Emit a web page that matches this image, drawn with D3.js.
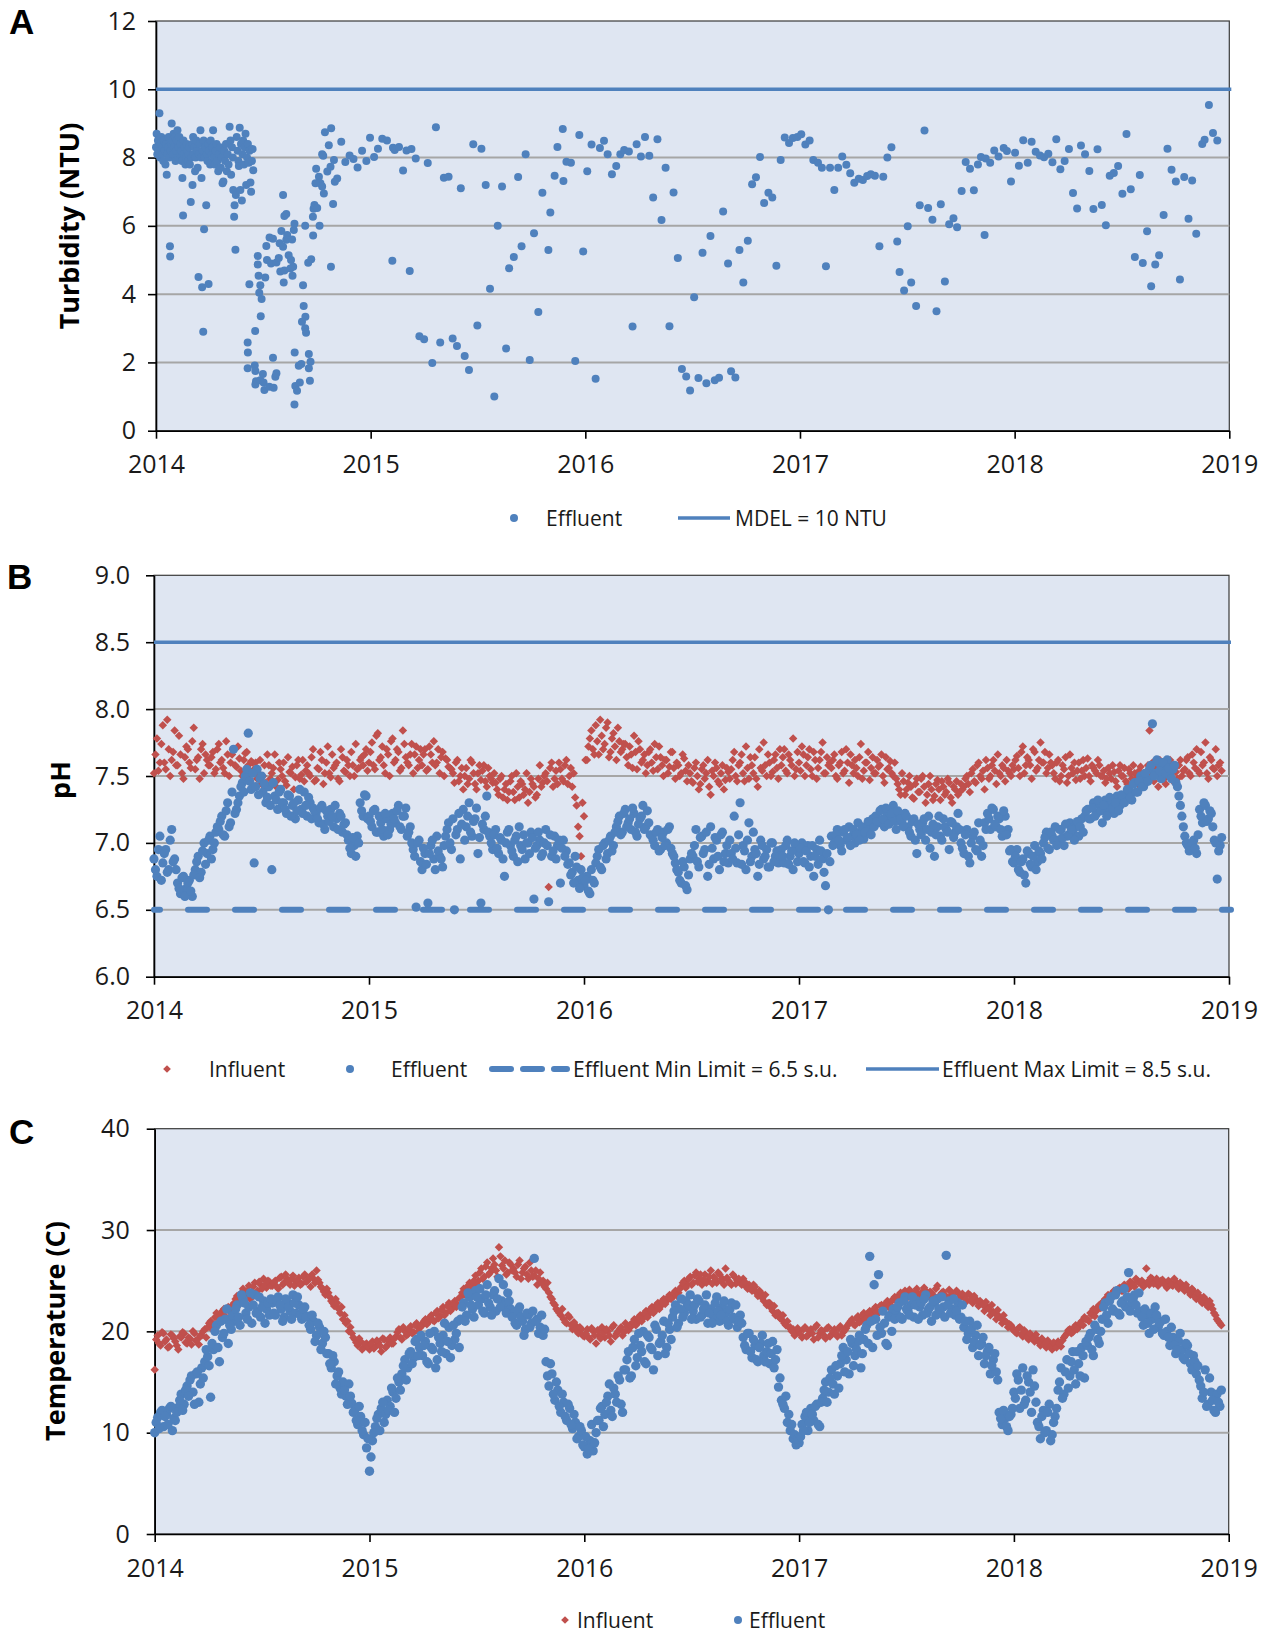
<!DOCTYPE html>
<html>
<head>
<meta charset="utf-8">
<script src="https://cdn.jsdelivr.net/npm/d3@7"></script>
<style>
  body { margin: 0; background: #fff; }
  svg { display: block; font-family: "Open Sans", sans-serif; }
</style>
</head>
<body>
<svg id="chart" width="1270" height="1636"></svg>
<script>
// ---------- Data ----------
const years = [2014, 2015, 2016, 2017, 2018, 2019];
const turbidityTicks = [0, 2, 4, 6, 8, 10, 12];
const phTicks = [6.0, 6.5, 7.0, 7.5, 8.0, 8.5, 9.0];
const tempTicks = [0, 10, 20, 30, 40];

const mdelNTU = 10;
const phMinLimit = 6.5;
const phMaxLimit = 8.5;

// Effluent turbidity grab samples: [years after 1 Jan 2014, NTU]
const turbidityEffluent = [
  [0.000,8.3],[0.003,8.7],[0.006,8.1],[0.009,8.5],[0.012,8.2],[0.016,9.3],[0.019,8.0],[0.022,8.4],[0.025,8.6],[0.028,8.1],
  [0.031,8.3],[0.034,7.9],[0.037,8.5],[0.040,8.2],[0.044,7.8],[0.047,8.4],[0.050,7.5],[0.053,8.1],[0.056,8.3],[0.059,8.6],
  [0.062,8.0],[0.065,5.4],[0.066,5.1],[0.068,8.2],[0.071,8.4],[0.073,9.0],[0.076,8.5],[0.079,8.1],[0.082,8.7],[0.085,8.3],
  [0.088,8.6],[0.091,7.9],[0.094,8.2],[0.097,8.5],[0.100,8.8],[0.103,8.0],[0.106,8.3],[0.109,8.6],[0.112,8.1],[0.115,8.4],
  [0.118,8.2],[0.121,7.9],[0.123,7.4],[0.126,6.3],[0.128,8.5],[0.131,8.1],[0.134,8.3],[0.137,7.8],[0.140,8.0],[0.143,8.4],
  [0.146,8.2],[0.149,7.9],[0.152,8.1],[0.155,8.3],[0.158,7.8],[0.162,6.7],[0.165,8.0],[0.168,8.4],[0.170,7.2],[0.173,8.6],
  [0.176,8.1],[0.179,8.3],[0.182,7.6],[0.185,8.0],[0.188,8.5],[0.191,8.2],[0.194,7.7],[0.198,4.5],[0.201,8.1],[0.204,8.4],
  [0.207,8.8],[0.210,8.0],[0.212,7.4],[0.215,4.2],[0.218,8.2],[0.220,2.9],[0.222,8.5],[0.224,5.9],[0.227,8.0],[0.230,8.3],
  [0.234,6.6],[0.237,8.1],[0.240,7.9],[0.243,8.4],[0.245,4.3],[0.248,8.2],[0.252,7.8],[0.255,8.5],[0.257,7.83],[0.260,8.1],
  [0.263,8.3],[0.266,8.8],[0.270,8.0],[0.274,7.8],[0.278,8.2],[0.282,8.4],[0.286,7.9],[0.290,7.6],[0.294,8.1],[0.298,8.3],
  [0.302,7.7],[0.306,8.0],[0.310,7.25],[0.314,7.3],[0.318,8.2],[0.322,7.9],[0.326,8.4],[0.330,7.6],[0.334,8.1],[0.338,7.8],
  [0.343,8.9],[0.347,8.5],[0.350,7.5],[0.354,8.3],[0.358,8.0],[0.360,7.05],[0.364,6.27],[0.366,6.6],[0.370,5.3],[0.372,6.9],
  [0.376,8.6],[0.380,8.2],[0.384,7.9],[0.386,7.75],[0.390,8.87],[0.393,7.05],[0.396,8.4],[0.400,6.74],[0.403,8.1],[0.406,8.5],
  [0.410,7.8],[0.413,8.3],[0.417,8.7],[0.420,7.2],[0.424,8.0],[0.428,8.4],[0.432,7.85],[0.436,8.2],[0.440,7.27],[0.443,7.0],
  [0.447,7.9],[0.450,8.25],[0.453,7.63],
  [0.427,2.58],[0.428,2.29],[0.427,1.83],[0.435,4.29],[0.462,2.92],[0.460,1.91],[0.463,1.75],[0.466,1.45],[0.463,1.35],[0.474,5.12],
  [0.474,4.87],[0.478,4.54],[0.486,4.26],[0.481,4.04],[0.492,3.86],[0.488,3.35],[0.486,1.48],[0.501,1.41],[0.505,1.19],[0.498,1.66],
  [0.528,1.29],[0.548,1.26],[0.545,2.14],[0.556,1.58],[0.561,1.68],[0.509,4.49],[0.514,5.41],[0.529,5.66],[0.545,5.62],[0.517,5.0],
  [0.536,4.9],[0.561,4.93],[0.572,5.06],[0.576,5.49],[0.592,5.39],[0.607,5.59],[0.584,5.85],[0.611,5.73],[0.634,5.6],[0.642,5.88],
  [0.592,6.9],[0.598,6.29],[0.607,6.35],[0.645,6.06],[0.579,4.66],[0.598,4.69],[0.626,4.75],[0.595,4.34],[0.636,4.54],[0.618,5.14],
  [0.629,5.0],[0.639,4.8],[0.645,0.77],[0.646,2.29],[0.665,1.9],[0.677,1.95],[0.649,1.31],[0.657,1.17],[0.670,1.41],[0.685,4.26],
  [0.688,3.65],[0.696,3.34],[0.695,3.0],[0.699,2.87],[0.680,3.19],[0.712,2.25],[0.720,2.02],[0.712,1.83],[0.717,1.46],[0.695,6.0],
  [0.709,4.92],[0.723,5.02],[0.732,5.72],[0.731,6.27],[0.734,6.5],[0.762,6.0],[0.738,6.61],[0.751,6.52],[0.746,7.67],[0.759,7.44],
  [0.766,7.25],[0.782,6.95],[0.774,7.15],[0.743,7.25],[0.774,8.1],[0.779,8.05],[0.787,8.74],[0.816,8.86],[0.805,8.36],[0.815,4.8],
  [0.825,6.64],[0.829,7.93],[0.813,7.73],[0.798,7.59],[0.844,7.39],[0.833,7.29],[0.863,8.46],
  [0.882,7.87],[0.902,8.06],[0.920,7.96],[0.939,7.71],[0.960,8.2],[0.980,7.9],[0.997,8.58],[1.016,8.02],[1.034,8.26],[1.054,8.55],
  [1.076,8.5],[1.101,4.98],[1.104,8.29],[1.112,8.22],[1.132,8.31],[1.151,7.62],[1.167,8.21],[1.182,4.68],[1.190,8.25],[1.210,7.97],
  [1.227,2.77],[1.249,2.68],[1.266,7.84],[1.287,1.98],[1.304,8.89],[1.324,2.58],[1.341,7.41],[1.363,7.44],[1.382,2.7],[1.402,2.48],
  [1.420,7.1],[1.438,2.19],[1.458,1.78],[1.478,8.39],[1.497,3.08],[1.516,8.26],[1.536,7.2],[1.556,4.16],[1.576,1.0],[1.592,6.0],
  [1.612,7.15],[1.631,2.41],[1.645,4.76],[1.667,5.09],[1.687,7.43],[1.703,5.4],[1.722,8.1],[1.741,2.07],[1.761,5.78],[1.781,3.48],
  [1.800,6.97],[1.828,5.29],[1.837,6.39],[1.857,7.47],[1.870,8.31],[1.895,8.84],[1.898,7.31],[1.912,7.88],[1.933,7.85],[1.953,2.04],
  [1.972,8.66],[1.990,5.25],[2.009,7.6],[2.029,8.38],[2.048,1.52],[2.068,8.28],[2.087,8.49],[2.104,8.1],[2.124,7.51],[2.144,7.75],
  [2.163,8.1],[2.181,8.22],[2.203,8.18],[2.220,3.05],[2.239,8.39],[2.259,8.03],[2.278,8.6],[2.298,8.05],[2.316,6.83],[2.336,8.54],
  [2.355,6.17],[2.374,7.7],[2.392,3.06],[2.411,6.98],[2.431,5.06],[2.450,1.81],[2.470,1.59],[2.488,1.18],[2.507,3.91],[2.527,1.54],
  [2.546,5.21],[2.564,1.39],[2.583,5.7],[2.603,1.48],[2.623,1.55],[2.642,6.42],[2.665,4.9],[2.679,1.74],[2.699,1.56],[2.718,5.29],
  [2.736,4.34],[2.757,5.56],[2.777,7.22],[2.795,7.42],[2.814,8.02],[2.833,6.67],[2.853,6.97],[2.871,6.83],[2.890,4.83],[2.910,7.93],
  [2.929,8.59],[2.949,8.43],[2.967,8.57],[2.988,8.6],[3.006,8.68],[3.025,8.38],[3.045,8.5],[3.062,7.93],[3.084,7.85],[3.102,7.7],
  [3.121,4.82],[3.140,7.7],[3.160,7.05],[3.178,7.7],[3.197,8.03],[3.216,7.79],[3.234,7.54],[3.253,7.26],[3.274,7.38],[3.293,7.34],
  [3.313,7.46],[3.330,7.51],[3.349,7.47],[3.370,5.4],[3.388,7.44],[3.407,8.0],[3.426,8.3],[3.453,5.54],[3.464,4.65],[3.485,4.11],
  [3.502,5.99],[3.518,4.34],[3.541,3.65],[3.558,6.6],[3.580,8.79],[3.597,6.52],[3.617,6.18],[3.636,3.5],[3.656,6.63],[3.675,4.37],
  [3.695,6.05],[3.715,6.22],[3.732,5.96],[3.753,7.02],[3.772,7.87],[3.792,7.67],[3.810,7.04],[3.829,7.8],[3.843,8.02],[3.860,5.73],
  [3.865,7.97],[3.886,7.85],[3.905,8.21],[3.925,8.03],[3.949,8.28],[3.964,8.19],[3.983,7.3],[4.002,8.14],[4.020,7.76],[4.040,8.51],
  [4.061,7.85],[4.079,8.46],[4.098,8.17],[4.118,8.06],[4.137,8.01],[4.157,8.11],[4.176,7.86],[4.194,8.54],[4.213,7.66],[4.233,7.9],
  [4.253,8.25],[4.272,6.96],[4.291,6.51],[4.309,8.35],[4.328,8.1],[4.348,7.61],[4.367,6.49],[4.386,8.24],[4.406,6.61],[4.425,6.02],
  [4.443,7.47],[4.462,7.55],[4.482,7.75],[4.502,6.94],[4.521,8.69],[4.541,7.07],[4.560,5.09],[4.583,7.49],[4.597,4.91],[4.617,5.84],
  [4.636,4.23],[4.655,4.87],[4.673,5.14],[4.694,6.32],[4.712,8.26],[4.731,7.64],[4.751,7.3],[4.770,4.43],[4.790,7.43],[4.810,6.21],
  [4.827,7.33],[4.846,5.77],[4.874,8.4],[4.885,8.52],[4.905,9.54],[4.924,8.72],[4.944,8.5]
];

// pH and temperature: one row per calendar year (2014..2018), a reading every 5 days.
// The "2" arrays are the second sampling round, taken 2.5 days after each first-round reading.
const sampleStepDays = 5;
const secondRoundOffsetDays = 2.5;

const phInfluent = [
  [7.52,7.78,7.60,7.88,7.55,7.70,7.62,7.84,7.58,7.66,7.48,7.72,7.60,7.76,7.55,7.64,7.70,7.52,7.62,
   7.58,7.68,7.55,7.74,7.62,7.52,7.66,7.60,7.70,7.57,7.63,7.50,7.67,7.58,7.61,
   7.55,7.48,7.62,7.50,7.45,7.58,7.52,7.66,7.47,7.55,7.60,7.43,7.53,7.57,7.49,7.62,7.51,7.46,
   7.58,7.50,7.70,7.47,7.55,7.62,7.52,7.72,7.49,7.56,7.60,7.46,7.64,7.53,7.58,7.68,7.50,7.55,7.62,
   7.58,7.70],
  [7.60,7.75,7.55,7.82,7.64,7.58,7.70,7.50,7.78,7.62,7.68,7.56,7.74,7.60,7.66,7.52,7.72,7.62,
   7.58,7.70,7.55,7.66,7.76,7.60,7.52,7.68,7.63,7.57,
   7.55,7.45,7.62,7.50,7.40,7.56,7.48,7.60,7.44,7.52,7.47,7.58,7.42,7.50,7.45,
   7.45,7.36,7.50,7.40,7.32,7.46,7.38,7.52,7.34,7.44,7.40,7.30,7.48,7.42,7.36,7.58,7.45,
   7.52,6.67,7.60,7.48,7.44,7.55,7.46,7.62,7.50,7.42,7.34,7.12,6.90],
  [7.20,7.62,7.78,7.70,7.88,7.66,7.80,7.74,7.90,7.68,7.82,7.62,7.76,7.70,
   7.74,7.58,7.66,7.80,7.55,7.70,7.62,7.52,7.68,7.60,7.74,7.55,7.64,7.50,7.62,7.57,7.68,7.48,7.58,7.52,7.63,7.46,
   7.52,7.45,7.60,7.40,7.55,7.48,7.62,7.36,7.50,7.56,7.44,7.58,7.47,7.53,
   7.55,7.68,7.46,7.60,7.52,7.72,7.48,7.58,7.64,7.42,7.56,7.75,7.50,7.60,7.53,7.66,7.48,
   7.58,7.70,7.52,7.62,7.78,7.55],
  [7.60,7.72,7.50,7.64,7.55,7.68,7.48,7.62,7.75,7.52,7.58,
   7.56,7.66,7.48,7.60,7.52,7.70,7.45,7.58,7.62,7.50,7.74,7.54,7.60,7.47,7.64,7.52,7.57,7.66,7.45,7.55,7.61,7.50,
   7.48,7.40,7.52,7.36,7.45,7.42,7.33,7.48,7.38,7.50,7.30,7.44,7.40,7.35,7.47,7.32,7.42,7.38,7.45,7.30,7.40,7.36,7.44,
   7.42,7.50,7.38,7.55,7.45,7.60,7.48,7.40,7.56,7.50,7.62,7.44,7.52,7.58,7.46,7.54,7.50],
  [7.55,7.65,7.50,7.72,7.58,7.62,7.48,7.68,7.56,7.75,7.60,7.52,7.66,
   7.58,7.48,7.62,7.50,7.55,7.45,7.66,7.52,7.47,7.60,7.54,7.50,7.63,7.46,7.56,7.52,7.58,
   7.50,7.45,7.56,7.48,7.53,7.42,7.58,7.50,7.46,7.55,7.48,7.52,7.44,7.57,
   7.52,7.45,7.84,7.60,7.50,7.42,7.58,7.48,7.55,7.62,7.46,7.53,7.58,7.50,
   7.55,7.64,7.50,7.60,7.70,7.52,7.58,7.75,7.48,7.62,7.55,7.50,7.60]
];
const phInfluent2 = [
  [7.66,7.54,7.74,7.60,7.92,7.50,7.68,7.58,7.80,7.52,7.64,7.70,7.56,7.86,7.62,7.48,7.74,7.66,7.58,
   7.64,7.52,7.70,7.60,7.56,7.76,7.50,7.66,7.58,7.72,7.54,7.62,7.68,7.52,7.60,
   7.60,7.52,7.44,7.58,7.66,7.48,7.56,7.42,7.60,7.50,7.46,7.64,7.52,7.40,7.58,7.48,7.62,7.54,
   7.52,7.64,7.46,7.56,7.68,7.44,7.60,7.52,7.66,7.58,7.48,7.70,7.54,7.62,7.50,7.58,7.74,7.56,7.64,
   7.66,7.54],
  [7.68,7.58,7.80,7.62,7.72,7.52,7.66,7.76,7.60,7.70,7.54,7.84,7.64,7.58,7.74,7.66,7.56,7.70,
   7.66,7.54,7.72,7.60,7.58,7.70,7.64,7.50,7.62,7.56,
   7.52,7.60,7.46,7.56,7.50,7.44,7.62,7.52,7.40,7.58,7.54,7.46,7.56,7.48,7.52,
   7.40,7.48,7.34,7.44,7.38,7.50,7.32,7.42,7.46,7.36,7.52,7.38,7.44,7.34,7.48,7.42,7.50,
   7.46,7.56,7.42,7.54,7.60,7.48,7.58,7.44,7.56,7.52,7.28,7.05,7.30],
  [7.62,7.72,7.84,7.66,7.76,7.92,7.70,7.86,7.64,7.78,7.72,7.86,7.68,7.74,
   7.64,7.72,7.56,7.68,7.76,7.60,7.66,7.58,7.70,7.54,7.64,7.72,7.58,7.62,7.52,7.68,7.56,7.60,7.50,7.66,7.54,7.58,
   7.46,7.56,7.50,7.44,7.58,7.52,7.42,7.54,7.60,7.46,7.52,7.40,7.56,7.48,
   7.62,7.50,7.58,7.66,7.46,7.56,7.64,7.52,7.48,7.70,7.54,7.58,7.66,7.50,7.62,7.56,7.70,
   7.64,7.54,7.66,7.58,7.50,7.68],
  [7.54,7.66,7.58,7.70,7.50,7.62,7.56,7.68,7.52,7.64,7.60,
   7.62,7.50,7.58,7.68,7.54,7.60,7.66,7.52,7.56,7.64,7.48,7.60,7.68,7.56,7.52,7.62,7.58,7.50,7.64,7.56,7.52,7.60,
   7.44,7.36,7.46,7.40,7.50,7.34,7.44,7.38,7.48,7.42,7.36,7.50,7.32,7.44,7.40,7.46,7.36,7.48,7.34,7.42,7.46,7.38,7.40,
   7.48,7.44,7.52,7.46,7.58,7.50,7.54,7.62,7.48,7.58,7.54,7.66,7.50,7.56,7.62,7.52,7.58],
  [7.62,7.56,7.68,7.52,7.64,7.58,7.70,7.54,7.62,7.60,7.68,7.56,7.60,
   7.52,7.60,7.46,7.58,7.64,7.50,7.56,7.60,7.54,7.48,7.62,7.56,7.50,7.58,7.54,7.62,7.50,
   7.54,7.48,7.52,7.58,7.46,7.54,7.50,7.56,7.44,7.52,7.58,7.48,7.54,7.50,
   7.48,7.58,7.52,7.46,7.56,7.62,7.50,7.44,7.60,7.52,7.56,7.48,7.62,7.54,
   7.62,7.52,7.66,7.56,7.54,7.68,7.60,7.52,7.64,7.56,7.70,7.58,7.54]
];

const phEffluent = [
  [6.88,6.75,7.05, 6.85,6.95,6.80,7.10,6.88, 6.70,6.62,6.75,6.66,6.72,6.60,
   6.80,6.90,6.78,7.00,6.92,7.05,6.95,7.08, 7.10,7.20,7.05,7.30,7.15,7.70,7.25,7.35,
   7.45,7.50,7.82,7.40,6.85,7.55,7.48, 7.38,7.30,7.42,6.80,7.35,7.25,7.40,
   7.30,7.22,7.35,7.28,7.18,7.32,7.25,7.38,7.20,7.30,7.26,
   7.22,7.15,7.28,7.10,7.20,7.25,7.12,7.18,7.22,7.08,7.15, 7.02,6.92,6.98,7.05, 7.30,7.20,7.35],
  [7.20,7.12,7.25,7.08,7.15,7.05,7.18,7.10, 7.22,7.15,7.28,7.10,7.20,7.05,7.12,
   6.95,6.52,7.02,6.80,6.92,6.55,6.98,6.88,7.05,6.90,6.82,
   7.05,7.15,6.95,6.50,7.10,6.88,7.25,7.12,7.30,7.05,7.18,6.92,6.55,7.10,7.35,
   7.05,6.95,7.10,6.92,7.02,6.75,7.08,6.98,6.90,7.05,7.12,6.95,6.88,7.00,7.08,6.58,6.98,7.02,6.92,7.10,6.56,6.90,7.05,6.98,6.70,7.02,6.94,
   6.85,6.78,6.90,6.72,6.80],
  [6.68,6.75,6.62,6.72, 6.85,6.95,6.80,7.00,6.92,7.05,6.98,
   7.12,7.20,7.08,7.25,7.15,7.10,7.22,7.05,7.18,7.28,7.12,7.15,
   7.05,6.98,7.10,6.95,7.08,7.00,7.12,6.92, 6.85,6.78,6.70,6.82,6.65,6.88,
   6.90,7.10,6.82,7.05,6.95,6.75,7.12,6.88,7.02,6.80,7.08,6.92,6.85,
   6.92,7.20,6.85,7.30,6.98,6.80,7.15,6.90,6.95,6.75,7.02,6.88,6.95,6.82,7.00,6.90,6.85,
   6.95,6.85,7.02,6.90,6.80,6.98],
  [6.92,7.00,6.85,6.98,6.90,6.75,6.95,7.02,6.88,6.68,6.50,
   7.05,7.00,7.10,6.98,7.08,7.02,7.12,7.05,7.00,7.15,7.08,7.03,7.12,7.10,7.18,
   7.20,7.15,7.25,7.12,7.22,7.18,7.28,7.10,7.20,7.15,7.22,
   7.12,7.05,7.18,6.92,7.10,7.15,7.02,7.20,7.08,6.90,7.12,7.05,7.18,7.10,6.95,7.15,7.08,7.22,
   7.00,6.92,7.10,6.85,7.05,6.95,7.15,6.90, 7.15,7.22,7.10,7.25,7.12,7.18,7.05,7.20,7.10,6.95],
  [6.85,6.95,6.78,6.88,6.70,6.92,6.82,6.98,6.86,6.92,
   7.00,7.08,6.95,7.05,7.12,7.02,7.10,6.98,7.05,7.15,7.08,7.12,7.05,7.18,
   7.20,7.25,7.18,7.30,7.22,7.28,7.15,7.32,7.25,7.30,7.22,7.35,7.28,7.32,
   7.35,7.40,7.32,7.45,7.38,7.50,7.42,7.48, 7.55,7.89,7.52,7.60,7.48,7.58,7.62,7.50,7.55,7.45,
   7.35,7.20,7.05,6.98,6.95, 7.02,6.92, 7.25,7.15,7.28,7.18,7.22, 7.02,6.73,6.98]
];
const phEffluent2 = [
  [6.80,6.95,6.72, 6.92,6.78,7.02,6.86,6.80, 6.66,6.74,6.60,6.70,6.64,6.76,
   6.86,6.74,6.94,6.84,7.02,6.88,7.00,7.12, 7.16,7.06,7.24,7.12,7.38,7.22,7.30,7.42,
   7.38,7.55,7.46,7.52,7.42,7.36,7.50, 7.44,7.34,7.28,7.45,7.32,7.38,7.30,
   7.25,7.36,7.20,7.30,7.24,7.40,7.22,7.28,7.34,7.18,7.24,
   7.18,7.26,7.14,7.24,7.16,7.20,7.28,7.10,7.20,7.14,7.06, 6.96,7.04,6.90,7.00, 7.24,7.36,7.18],
  [7.16,7.24,7.08,7.20,7.10,7.22,7.06,7.14, 7.18,7.24,7.12,7.20,7.26,7.08,7.00,
   6.90,7.00,6.86,6.96,6.84,6.92,7.02,6.80,6.94,6.88,6.98,
   7.10,7.00,7.18,7.06,7.22,7.14,7.02,7.20,7.08,7.16,7.26,7.04,7.14,7.20,7.08,
   7.00,7.06,6.96,7.04,6.88,7.00,7.10,6.94,7.02,6.86,6.98,7.06,7.00,6.92,7.04,6.96,7.08,6.90,7.00,6.98,7.06,6.94,6.88,7.02,6.96,6.90,6.84,
   6.76,6.70,6.82,6.66,6.74],
  [6.72,6.64,6.80,6.70, 6.90,6.82,6.98,6.88,7.02,6.94,7.08,
   7.16,7.06,7.22,7.12,7.18,7.26,7.08,7.14,7.20,7.10,7.24,7.06,
   7.02,7.08,6.94,7.04,6.98,7.10,6.96,6.90, 6.80,6.72,6.86,6.68,6.76,6.92,
   6.98,6.86,7.04,6.92,7.08,6.84,6.96,7.04,6.90,7.06,6.86,6.98,7.02,
   6.88,6.96,7.06,6.84,6.94,7.02,6.86,7.08,6.92,6.84,6.98,6.90,6.82,7.00,6.86,6.94,6.90,
   6.90,6.98,6.84,6.94,7.00,6.86],
  [6.96,6.86,6.94,6.82,6.98,6.90,6.84,6.94,6.78,6.92,6.86,
   6.98,7.06,7.02,6.94,7.10,7.04,6.98,7.10,7.06,7.02,7.12,7.08,7.16,7.06,7.12,
   7.16,7.24,7.18,7.26,7.14,7.22,7.16,7.24,7.18,7.12,7.20,
   7.08,7.16,7.02,7.14,7.06,7.18,7.10,6.96,7.14,7.06,7.20,7.02,7.12,7.08,7.16,7.04,7.12,7.10,
   6.96,7.06,6.90,7.00,7.08,6.94,7.02,6.98, 7.10,7.18,7.26,7.14,7.20,7.10,7.24,7.06,6.94,6.86],
  [6.90,6.80,6.86,6.76,6.94,6.84,6.90,6.80,6.94,6.88,
   7.04,6.96,7.08,7.02,6.98,7.10,7.04,7.14,7.06,7.10,7.02,7.16,7.12,7.08,
   7.24,7.18,7.26,7.20,7.32,7.24,7.28,7.20,7.34,7.26,7.30,7.24,7.36,7.30,
   7.40,7.34,7.44,7.38,7.46,7.42,7.52,7.46, 7.58,7.50,7.62,7.54,7.60,7.52,7.56,7.48,7.58,7.42,
   7.28,7.12,7.00,6.94,7.00, 6.96,7.06, 7.20,7.30,7.16,7.24,7.12, 7.00,6.94,7.04]
];

const tempInfluent = [
  [16.2,19.6,18.6,19.8,19.2,18.5,19.6,19.0,18.2,19.4,19.8,18.8,19.3,20.0,19.1,18.7,19.6,20.2,
   20.4,21.0,20.6,21.8,21.2,22.0,21.5,22.4,21.8,
   22.8,23.5,23.0,24.2,23.6,24.5,23.8,24.8,24.0,24.6,25.2,24.3,24.9,
   24.5,25.0,24.2,25.4,24.8,25.2,24.6,25.5,24.9,25.3,24.7,25.6,25.0,24.4,25.2,26.0,24.8,
   24.2,23.6,23.8,23.0,22.5,22.8,21.8,21.2,20.8,20.0,19.8, 19.2,18.6,19.0,18.4,18.8],
  [18.2,19.0,18.5,18.9,18.0,19.2,18.6,19.4,18.8, 19.5,20.2,19.2,20.0,19.7,20.5,19.9,20.8,20.3,
   20.6,21.2,20.9,21.6,21.0,22.0,21.5,22.4,21.8,22.8,22.2,23.0,22.6,
   23.4,24.2,23.8,24.8,24.4,25.5,25.0,26.2,25.4,26.8,25.8,27.2,26.0,28.3,26.5,27.0,25.8,26.6,
   26.2,25.4,27.0,25.8,26.4,25.2,26.0,25.5,24.6,25.8,25.0,24.2,23.8,23.2,22.6,
   22.0,21.6,21.2,20.8,21.4,20.2,20.6,19.8,20.2],
  [19.5,20.2,19.2,20.0,18.8,19.6,20.4,19.4,20.0,19.0,20.6,19.8,20.2,19.6,20.8,20.1,
   20.5,21.2,20.8,21.6,21.3,22.0,21.7,22.4,22.0,22.8,22.5,23.2,23.0,23.6,23.4,24.0,23.8,
   24.4,25.0,24.6,25.4,24.8,25.8,25.2,24.6,25.6,25.0,26.0,25.4,24.8,25.6,25.2,26.2,25.0,24.6,25.4,25.0,24.8,25.2,24.4,
   24.6,24.0,24.4,23.5,23.8,23.0,22.6,22.8,22.0,21.6,21.8,21.2,20.8,21.0,20.4, 20.2,19.8],
  [20.0,19.4,20.4,19.6,20.2,19.2,20.6,19.8,20.0,19.3,20.4,19.7,20.2,19.5,20.5,19.9,20.3,
   20.8,21.2,20.6,21.5,21.0,21.8,21.4,22.0,21.6,22.4,21.8,22.6,22.2,23.0,22.6,23.2,
   23.0,23.6,23.2,24.0,23.4,23.8,23.2,24.2,23.6,23.0,24.0,23.5,23.8,23.3,24.5,23.6,23.9,23.4,24.1,23.6,23.2,23.8,23.5,
   23.4,23.0,23.6,22.8,23.2,22.5,22.8,22.0,22.4,21.6,21.9,21.2,21.5,20.8,21.0,20.4,20.6],
  [20.2,19.8,20.4,19.5,19.9,19.2,19.6,19.0, 19.2,18.6,19.0,18.4,18.8,18.2,18.6,19.0,18.5,
   19.4,19.8,20.2,19.9,20.6,20.4,21.0,21.4,21.2,21.8,22.2,22.0,22.6,
   22.8,23.2,23.6,23.4,24.0,23.8,24.3,24.0,24.5,24.2,24.8,24.4,25.0,
   24.8,24.4,26.2,24.6,25.2,24.9,24.5,25.0,24.7,24.3,24.8,24.5,24.9,24.2,24.6,24.0,
   24.2,23.6,24.0,23.2,23.5,22.8,23.2,22.4,22.6,21.8,21.2,20.8]
];
const tempInfluent2 = [
  [19.2,18.8,19.9,19.0,18.4,19.7,19.3,18.6,19.5,19.9,18.9,19.4,18.7,19.8,19.2,19.6,20.0,19.4,
   20.8,20.2,21.4,20.8,21.6,22.2,21.2,22.0,22.6,
   23.2,22.6,23.8,23.4,24.0,23.2,24.4,23.6,24.9,24.2,24.6,25.0,24.5,
   24.8,24.4,25.3,24.6,25.6,24.8,25.2,24.5,25.0,24.6,25.4,24.9,25.3,25.6,24.8,25.1,24.4,
   23.9,24.2,23.4,22.8,23.2,22.2,22.4,21.6,21.0,20.4,19.4, 18.9,19.3,18.2,18.7,18.5],
  [18.7,18.3,19.1,18.6,19.3,18.4,19.0,18.8,19.3, 19.9,19.4,20.4,19.6,20.2,19.8,20.6,20.0,20.6,
   21.0,20.7,21.4,21.1,21.8,21.3,22.1,21.6,22.5,22.0,22.7,22.4,23.3,
   23.8,23.6,24.5,24.0,25.0,24.6,25.8,25.2,26.4,25.6,26.2,26.6,25.4,27.4,26.2,25.6,26.8,26.0,
   25.8,26.6,25.2,26.2,25.6,26.8,25.4,26.0,25.2,24.8,24.4,24.8,23.4,22.8,22.2,
   21.8,22.2,20.9,21.6,20.6,20.9,20.0,20.4,19.6],
  [19.8,19.4,20.3,19.6,20.1,19.3,19.9,20.2,19.6,20.4,19.5,20.0,20.4,19.9,20.4,20.6,
   20.9,20.6,21.4,21.0,21.8,21.4,22.2,21.8,22.6,22.2,23.0,22.7,23.4,23.2,23.8,23.5,24.2,
   24.8,24.3,25.2,24.6,25.5,24.9,25.6,25.1,24.8,25.4,24.7,25.2,25.8,25.0,24.6,25.3,24.8,25.6,24.7,25.2,24.6,24.9,24.2,
   24.2,24.6,23.8,24.0,23.3,23.6,22.8,22.3,22.5,21.8,21.3,21.6,20.6,20.4,20.0, 19.6,20.3],
  [19.7,20.2,19.5,20.0,19.8,20.4,19.4,20.1,19.6,20.3,19.5,20.0,19.8,20.3,19.6,20.1,20.6,
   21.0,20.7,21.3,20.9,21.6,21.2,21.8,21.5,22.2,21.9,22.5,22.0,22.8,22.4,23.0,23.4,
   23.3,23.8,23.4,23.6,24.1,23.5,23.9,23.3,23.8,24.3,23.4,23.9,23.6,24.2,23.4,23.8,23.6,23.3,23.9,23.4,24.0,23.3,23.7,
   23.2,23.7,23.1,23.5,22.9,23.0,22.6,22.9,22.2,22.6,21.8,22.1,21.3,21.6,20.9,20.7,20.2],
  [19.9,20.3,19.7,20.1,19.4,19.8,19.3,19.7, 18.9,19.3,18.7,19.1,18.5,18.9,18.4,18.8,19.1,
   19.6,20.1,19.8,20.4,20.2,20.8,20.6,21.2,21.0,21.6,21.5,22.4,22.3,
   23.0,22.8,23.4,23.8,23.6,24.2,24.0,24.6,24.4,24.9,24.6,25.2,24.8,
   25.0,24.6,24.9,25.3,24.7,25.2,24.8,25.1,24.6,25.0,24.6,25.2,24.5,24.8,24.3,24.6,
   23.9,24.2,23.4,23.8,23.0,23.4,22.6,23.0,22.2,21.6,21.0,20.6]
];

const tempEffluent = [
  [10.0,11.5,12.0,10.6,11.8,12.4,10.2,11.2, 12.5,13.8,12.8,14.6,15.2,14.0,15.8,13.0,16.4,17.0,
   17.5,13.5,18.2,20.6,17.0,19.4,21.2,18.8,20.2,
   21.0,22.6,20.6,23.2,21.8,22.4,20.8,23.6,22.0,21.4,23.0,22.2,21.6,
   22.8,21.6,23.4,22.2,21.4,22.9,22.0,23.6,21.8,22.6,21.2,22.4,
   21.5,20.2,21.0,19.6,20.4,18.8,19.4, 17.8,16.4,17.0,15.6,14.4,15.0,13.6,14.8,12.9, 12.2,10.8,11.6,9.8,8.5],
  [6.2,9.2, 10.6,11.8,12.4,11.0,13.2,12.6,14.0,13.4,15.0, 15.8,17.2,16.4,18.0,17.4,19.2,18.4,
   17.6,19.0,16.8,18.4,20.0,17.2,18.8,19.6,17.8,20.4,18.6,19.2,21.0,
   21.2,22.8,21.6,23.4,22.2,24.0,22.6,23.2,21.8,24.6,22.4,23.6,22.0,25.2,23.0,22.6,23.8,22.2,
   21.8,20.6,22.4,21.0,20.2,21.6,20.8,27.2,21.2,20.4,19.6,
   17.0,14.6,15.8,13.2,14.2,12.0,13.0,11.2,12.4,10.4,11.0,9.6,10.2],
  [8.6,7.9,9.2,8.2,10.0, 11.2,12.6,11.8,13.6,12.2,14.4,13.0,15.2,12.0,
   16.2,18.0,15.6,19.2,17.4,18.6,20.0,16.8,19.4,18.2,20.6,17.6,19.0,21.0,18.4,20.2,
   21.4,22.6,20.8,23.2,21.8,22.4,23.6,
   22.0,21.2,23.0,21.6,22.6,20.8,22.2,21.4,23.4,21.0,22.4,21.8,20.6,22.8,21.2,20.4,21.6,
   19.4,18.2,19.8,17.4,18.6,17.0,18.8,17.6,18.0,16.8,19.0,17.2,
   14.5,13.2,12.4,11.0,10.2,9.4,8.8],
  [9.0,10.8,11.6,10.2,12.4,11.2,12.8,10.6, 13.4,15.0,14.0,16.2,13.8,15.6,
   16.8,18.4,17.2,15.8,18.8,17.6,19.0,16.4,
   19.2,20.6,27.4,18.4,21.2,25.6,19.8,20.8,18.6,21.6,22.2,
   21.8,22.8,21.2,23.4,22.0,22.6,21.4,23.0,22.4,21.6,23.6,22.2,21.0,22.8,23.2,21.8,22.4,27.5,23.0,22.2,21.6,22.8,21.4,
   20.4,19.2,21.0,18.4,19.6,17.6,18.8,16.8,18.0,15.8,17.2,16.0, 12.0,10.8,11.4,10.2,11.8],
  [14.0,15.8,12.4,16.4,13.2,15.0,12.0,14.6, 11.0,9.4,12.2,10.2,12.8,9.8,11.6,
   14.2,16.4,13.8,17.2,15.6,18.0,14.8,16.8,18.4,15.4, 18.6,19.8,17.6,20.2,18.8,
   21.2,22.8,20.8,23.4,22.0,24.0,21.6,23.0,22.4,25.8,22.8,23.6,21.8,
   22.0,20.6,21.6,19.8,21.2,22.4,20.4,21.0,19.6,
   20.0,18.6,19.4,17.8,19.0,18.2,17.2,18.6,16.8,17.6,15.8,
   15.2,13.4,16.2,12.8,14.0,12.2,13.8,12.6]
];
const tempEffluent2 = [
  [11.0,10.4,12.2,11.6,10.8,12.6,11.4,12.0, 13.2,12.2,14.2,13.6,15.6,12.8,16.0,14.8,15.4,18.2,
   16.6,18.8,20.0,18.4,21.0,19.8,22.2,20.6,21.6,
   22.2,21.4,23.6,22.8,21.2,23.8,22.6,21.8,23.4,22.4,20.8,22.8,23.2,
   21.8,23.0,22.6,21.0,23.2,22.4,21.2,22.8,23.4,21.6,22.2,21.4,
   20.6,21.6,19.0,20.8,18.2,20.0,17.8, 16.8,17.6,14.8,16.0,13.8,14.2,12.8,13.6,12.0, 11.2,12.6,10.2,11.0,9.4],
  [7.6,10.0, 11.4,10.2,13.0,11.8,12.2,14.4,12.0,15.4,14.2, 16.6,15.2,17.8,16.8,19.0,17.6,19.6,
   18.6,17.0,19.8,18.2,16.4,19.4,18.0,20.8,19.0,17.4,20.6,19.8,18.4,
   22.4,21.0,23.8,22.6,21.4,23.4,24.2,22.0,23.6,22.8,21.6,24.0,23.2,22.4,24.6,21.8,23.0,21.4,
   20.8,22.0,21.4,19.6,21.8,20.4,22.0,21.0,19.8,21.6,20.2,
   15.6,16.8,13.8,15.0,12.6,13.8,11.6,12.8,10.8,11.8,9.4,10.6,8.8],
  [9.6,8.4,10.8,9.0,11.2, 12.4,10.6,13.0,14.8,11.6,13.8,15.6,12.8,16.2,
   17.2,15.4,18.4,16.6,19.8,18.0,17.0,19.6,18.4,16.2,20.2,18.8,19.6,17.8,20.8,19.2,
   22.0,20.4,22.2,21.4,23.0,22.6,21.2,
   22.6,23.2,21.4,22.2,23.6,21.8,20.8,22.8,22.0,21.6,23.0,21.0,22.2,21.4,22.6,21.0,20.8,
   18.6,19.8,18.0,19.2,17.2,18.4,19.6,17.0,18.8,17.8,16.4,18.2,
   15.4,12.8,13.6,11.8,10.8,9.8,9.4],
  [9.6,10.2,12.0,11.0,11.8,12.6,10.8,13.0, 14.2,13.0,15.4,14.8,16.6,14.4,
   17.6,16.0,18.0,19.2,16.6,18.2,19.6,17.8,
   20.2,18.8,21.0,24.6,19.6,20.4,22.0,18.8,21.4,20.0,21.2,
   22.4,21.4,23.0,22.2,21.6,23.4,22.6,21.2,22.8,23.2,21.8,22.4,23.0,21.6,22.2,23.4,21.4,22.6,21.8,23.2,22.0,21.2,22.6,
   21.0,19.8,20.2,19.0,20.6,18.6,19.4,17.6,18.4,16.6,17.8,15.2, 11.4,12.2,10.6,11.6,12.4],
  [13.4,15.2,14.2,12.8,15.6,14.0,16.2,13.0, 10.6,11.6,10.0,12.0,9.2,11.0,12.4,
   15.0,13.4,16.0,14.4,17.0,16.2,18.0,15.6,17.6,19.0, 19.4,18.2,20.6,19.2,20.0,
   22.4,21.6,23.0,22.2,23.6,21.8,22.8,24.2,23.4,22.0,23.2,22.6,23.8,
   21.4,22.2,20.8,21.8,20.2,21.6,20.8,19.8,21.2,
   19.4,20.4,18.6,18.2,19.8,17.4,18.8,17.8,16.2,17.0,16.6,
   14.6,14.0,12.6,15.4,13.2,12.0,13.0,14.2]
];

// ---------- Styling ----------
const BLUE = "#4f81bd";
const RED = "#c0504d";
const PLOT_BG = "#dfe6f2";
const GRID = "#a6a6a6";

// Turn per-year rows of readings into {t, v} points (t in decimal years)
function seriesPoints(rows, offsetDays = 0) {
  return rows.flatMap((row, yi) =>
    row.map((v, k) => ({ t: years[0] + yi + (k * sampleStepDays + offsetDays) / 365, v })));
}

const svg = d3.select("#chart");
const diamondPath = d3.symbol(d3.symbolSquare, 36)();
const legendDiamondPath = d3.symbol(d3.symbolSquare, 30)();

function drawPanel(cfg) {
  const g = svg.append("g");
  const x = d3.scaleLinear().domain([years[0], years[years.length - 1]]).range([cfg.left, cfg.right]);
  const y = d3.scaleLinear().domain(cfg.yDomain).range([cfg.bottom, cfg.top]);

  g.append("rect")
    .attr("x", cfg.left).attr("y", cfg.top)
    .attr("width", cfg.right - cfg.left).attr("height", cfg.bottom - cfg.top)
    .attr("fill", PLOT_BG).attr("stroke", "#3a3a3a").attr("stroke-width", 1.2);

  g.append("g").selectAll("line")
    .data(cfg.yTicks.filter(v => v > cfg.yDomain[0] && v < cfg.yDomain[1]))
    .join("line")
    .attr("x1", cfg.left).attr("x2", cfg.right)
    .attr("y1", d => y(d)).attr("y2", d => y(d))
    .attr("stroke", GRID).attr("stroke-width", 2);

  const xAxis = g.append("g")
    .attr("transform", `translate(0,${cfg.bottom})`)
    .call(d3.axisBottom(x).tickValues(years).tickFormat(d3.format("d"))
      .tickSize(8).tickSizeOuter(0).tickPadding(17));
  const yAxis = g.append("g")
    .attr("transform", `translate(${cfg.left},0)`)
    .call(d3.axisLeft(y).tickValues(cfg.yTicks).tickFormat(cfg.format)
      .tickSize(8).tickSizeOuter(0).tickPadding(cfg.labelGap - 8));
  [xAxis, yAxis].forEach(a => {
    a.select(".domain").attr("stroke", "#000").attr("stroke-width", 1.6);
    a.selectAll(".tick line").attr("stroke", "#000").attr("stroke-width", 1.6);
    a.selectAll(".tick text").attr("font-size", 25).attr("fill", "#1a1a1a")
      .attr("font-family", "'Open Sans', sans-serif");
  });

  g.append("text")
    .attr("transform", `translate(${cfg.titleX},${cfg.titleY}) rotate(-90)`)
    .attr("text-anchor", "middle").attr("dominant-baseline", "central")
    .attr("font-size", 27).attr("font-weight", 700).attr("fill", "#000")
    .text(cfg.title);

  g.append("text")
    .attr("x", cfg.letterX).attr("y", cfg.letterY)
    .attr("font-family", "'Liberation Sans', Arial, sans-serif")
    .attr("font-size", 35).attr("font-weight", 700).attr("fill", "#000")
    .text(cfg.letter);

  return { g, x, y };
}

function drawCircles(p, data, r) {
  p.g.append("g").selectAll("circle").data(data).join("circle")
    .attr("cx", d => p.x(d.t)).attr("cy", d => p.y(d.v)).attr("r", r)
    .attr("fill", BLUE);
}
function drawDiamonds(p, data) {
  p.g.append("g").selectAll("path").data(data).join("path")
    .attr("d", diamondPath)
    .attr("transform", d => `translate(${p.x(d.t)},${p.y(d.v)}) rotate(45)`)
    .attr("fill", RED);
}
function limitLine(p, value, dashed) {
  const line = p.g.append("line")
    .attr("x1", p.x.range()[0]).attr("x2", p.x.range()[1] + 2)
    .attr("y1", p.y(value)).attr("y2", p.y(value))
    .attr("stroke", BLUE);
  if (dashed) {
    line.attr("stroke-width", 6).attr("stroke-linecap", "round")
      .attr("stroke-dasharray", "19 28").attr("stroke-dashoffset", 13);
  } else {
    line.attr("stroke-width", 3.6);
  }
}

// Legend helpers
function legendText(x, y, label) {
  svg.append("text").attr("x", x).attr("y", y)
    .attr("dominant-baseline", "central").attr("font-size", 21).attr("fill", "#1a1a1a")
    .text(label);
}
function legendCircle(x, y) {
  svg.append("circle").attr("cx", x).attr("cy", y).attr("r", 4).attr("fill", BLUE);
}
function legendDiamond(x, y) {
  svg.append("path").attr("d", legendDiamondPath)
    .attr("transform", `translate(${x},${y}) rotate(45)`).attr("fill", RED);
}
function legendLine(x1, x2, y, dashed) {
  const l = svg.append("line").attr("x1", x1).attr("x2", x2).attr("y1", y).attr("y2", y)
    .attr("stroke", BLUE);
  if (dashed) l.attr("stroke-width", 6).attr("stroke-linecap", "round").attr("stroke-dasharray", "19 12");
  else l.attr("stroke-width", 3.6);
}

// ---------- Panel A: turbidity ----------
const panelA = drawPanel({
  left: 156, right: 1229.3, top: 21, bottom: 430.7,
  yDomain: [0, 12], yTicks: turbidityTicks, format: d3.format("d"), labelGap: 20,
  title: "Turbidity (NTU)", titleX: 68, titleY: 226,
  letter: "A", letterX: 9, letterY: 34
});
limitLine(panelA, mdelNTU, false);
drawCircles(panelA, turbidityEffluent.map(([dt, v]) => ({ t: years[0] + dt, v })), 4);

legendCircle(514, 518);
legendText(546, 518, "Effluent");
legendLine(678, 730, 518, false);
legendText(735, 518, "MDEL = 10 NTU");

// ---------- Panel B: pH ----------
const panelB = drawPanel({
  left: 154, right: 1229, top: 575.3, bottom: 976.7,
  yDomain: [6, 9], yTicks: phTicks, format: d3.format(".1f"), labelGap: 24,
  title: "pH", titleX: 59.5, titleY: 780,
  letter: "B", letterX: 7, letterY: 589
});
limitLine(panelB, phMaxLimit, false);
limitLine(panelB, phMinLimit, true);
drawDiamonds(panelB, seriesPoints(phInfluent).concat(seriesPoints(phInfluent2, secondRoundOffsetDays)));
drawCircles(panelB, seriesPoints(phEffluent).concat(seriesPoints(phEffluent2, secondRoundOffsetDays)), 4.6);

legendDiamond(167, 1069);
legendText(209, 1069, "Influent");
legendCircle(350, 1069);
legendText(391, 1069, "Effluent");
legendLine(492, 567, 1069, true);
legendText(573, 1069, "Effluent Min Limit = 6.5 s.u.");
legendLine(866, 939, 1069, false);
legendText(942, 1069, "Effluent Max Limit = 8.5 s.u.");

// ---------- Panel C: temperature ----------
const panelC = drawPanel({
  left: 154.7, right: 1228.7, top: 1128.7, bottom: 1534,
  yDomain: [0, 40], yTicks: tempTicks, format: d3.format("d"), labelGap: 25,
  title: "Temperature (C)", titleX: 54, titleY: 1331,
  letter: "C", letterX: 9, letterY: 1144
});
drawDiamonds(panelC, seriesPoints(tempInfluent).concat(seriesPoints(tempInfluent2, secondRoundOffsetDays)));
drawCircles(panelC, seriesPoints(tempEffluent).concat(seriesPoints(tempEffluent2, secondRoundOffsetDays)), 4.7);

legendDiamond(565, 1620);
legendText(577, 1620, "Influent");
legendCircle(738, 1620);
legendText(749, 1620, "Effluent");
</script>
</body>
</html>
